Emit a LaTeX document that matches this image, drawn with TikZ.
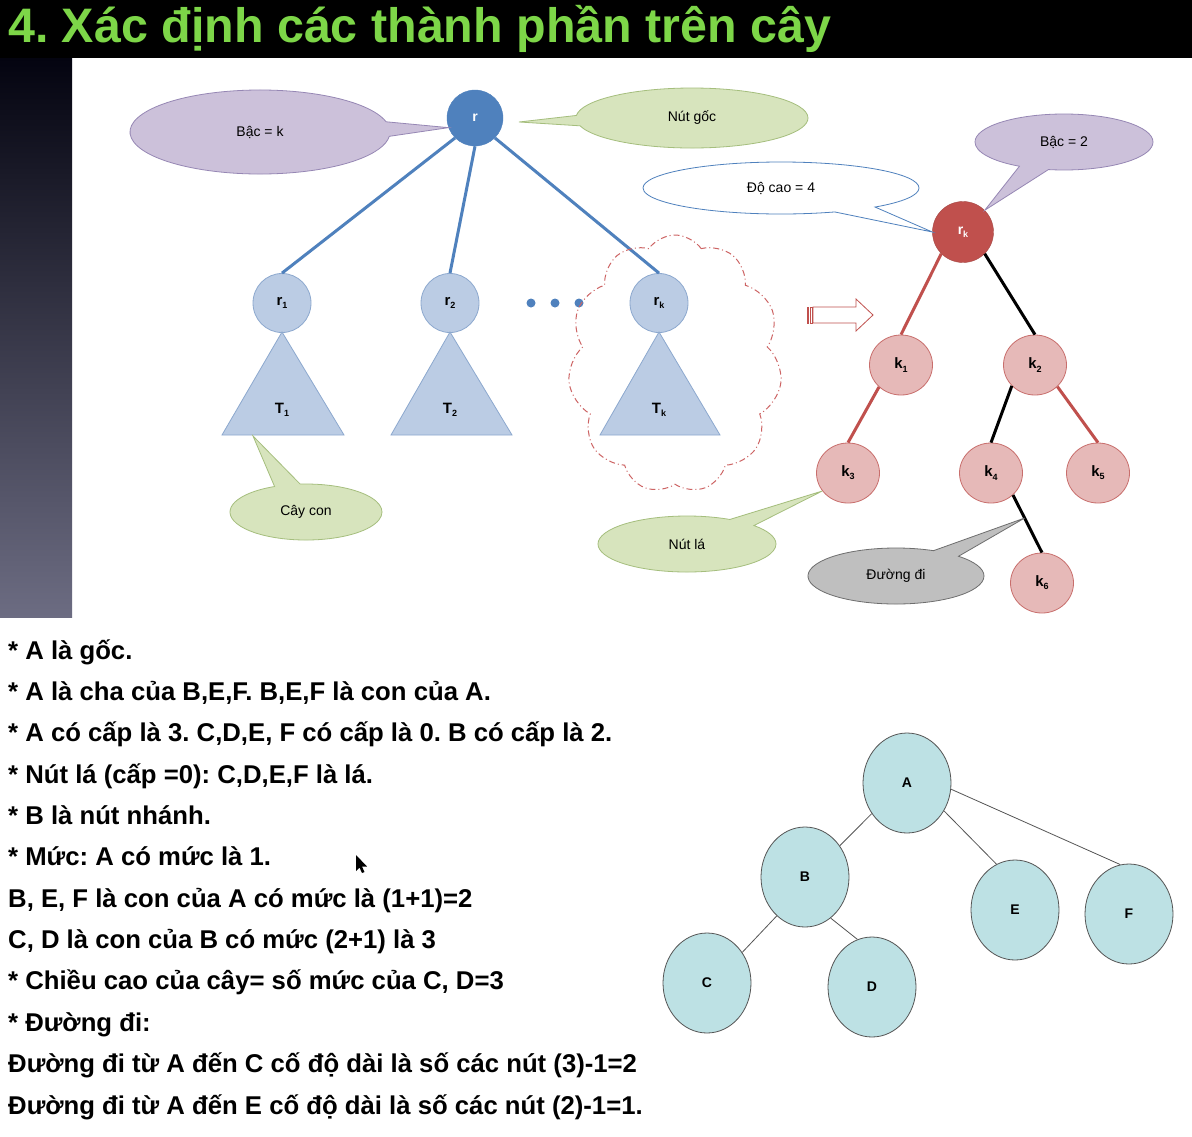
\documentclass[tikz,border=0pt]{standalone}
\usepackage{fontspec}
\setmainfont{Liberation Sans}
\usetikzlibrary{shapes.geometric,shapes.callouts,shapes.symbols,calc}

\definecolor{titlegreen}{RGB}{125,214,72}
\definecolor{rootblue}{RGB}{79,129,189}
\definecolor{subfill}{RGB}{187,204,228}
\definecolor{subline}{RGB}{140,168,206}
\definecolor{lilacfill}{RGB}{204,193,218}
\definecolor{lilacline}{RGB}{150,135,180}
\definecolor{sagefill}{RGB}{215,228,189}
\definecolor{sageline}{RGB}{165,190,125}
\definecolor{grayfill}{RGB}{191,191,191}
\definecolor{grayline}{RGB}{110,110,110}
\definecolor{brick}{RGB}{192,80,77}
\definecolor{pinkfill}{RGB}{230,185,184}
\definecolor{pinkline}{RGB}{200,110,108}
\definecolor{tealfill}{RGB}{189,225,228}
\definecolor{tealline}{RGB}{85,85,85}
\definecolor{cloudred}{RGB}{205,100,100}
\definecolor{stripetop}{RGB}{4,4,16}
\definecolor{stripemid}{RGB}{32,32,72}
\definecolor{stripebot}{RGB}{108,108,130}

% small lowered index used in node labels
\newcommand{\sbs}[1]{\raisebox{-0.4ex}{\fontsize{9}{9}\selectfont #1}}

\tikzset{
  bodytext/.style={anchor=base west, inner sep=0pt, font=\fontsize{25.7}{28}\selectfont\bfseries\frenchspacing},
  calloutbox/.style={ellipse callout, inner sep=0pt, line width=0.8pt,
    font=\fontsize{14}{16}\selectfont, callout pointer arc=20},
  lilac/.style={calloutbox, fill=lilacfill, draw=lilacline},
  sage/.style={calloutbox, fill=sagefill, draw=sageline},
  plain/.style={calloutbox, fill=white, draw=rootblue},
  grey/.style={calloutbox, fill=grayfill, draw=grayline},
  rootnode/.style={circle, fill=rootblue, draw=rootblue, text=white, minimum size=56pt,
    inner sep=0pt, font=\fontsize{14}{15}\selectfont\bfseries},
  subroot/.style={ellipse, fill=subfill, draw=subline, line width=0.8pt, minimum width=58pt,
    minimum height=59pt, inner sep=0pt, font=\fontsize{15}{16}\selectfont\bfseries},
  subtree/.style={fill=subfill, draw=subline, line width=0.8pt},
  treelabel/.style={inner sep=0pt, font=\fontsize{15}{16}\selectfont\bfseries},
  blueedge/.style={draw=rootblue, line width=3pt},
  dotnode/.style={circle, fill=rootblue, inner sep=0pt, minimum size=9pt},
  redroot/.style={circle, fill=brick, draw=brick!85!black, text=white, minimum size=61pt,
    inner sep=0pt, font=\fontsize{14}{15}\selectfont\bfseries},
  knode/.style={ellipse, fill=pinkfill, draw=pinkline, line width=0.8pt, minimum width=63pt,
    minimum height=60pt, inner sep=0pt, font=\fontsize{15}{16}\selectfont\bfseries},
  rededge/.style={draw=brick, line width=3pt},
  blackedge/.style={draw=black, line width=3pt},
  letter/.style={ellipse, fill=tealfill, draw=tealline, line width=0.8pt, minimum width=88pt,
    minimum height=100pt, inner sep=0pt, font=\fontsize{14}{15}\selectfont\bfseries},
  thinedge/.style={draw=tealline, line width=0.8pt},
  cloudline/.style={draw=cloudred, line width=1pt, dash pattern=on 6pt off 3pt on 1pt off 3pt}
}

\begin{document}
\begin{tikzpicture}[x=1pt,y=-1pt]
\useasboundingbox (0,0) rectangle (1192,1136);
\fill[white] (0,0) rectangle (1192,1136);

% slide frame: black title band and dark gradient strip at the left
\fill[black] (0,0) rectangle (1192,58);
\shade[top color=stripetop, middle color=stripemid, bottom color=stripebot] (0,58) rectangle (72,617);

\node[anchor=base west, inner sep=0pt, text=titlegreen,
      font=\fontsize{48.4}{50}\selectfont\bfseries\frenchspacing] (title) at (8,42)
      {4. Xác định các thành phần trên cây};

% ---------- general tree with subtrees ----------
\node[rootnode] (r) at (475,118) {r};
\node[subroot] (r1) at (282,303) {r\sbs{1}};
\node[subroot] (r2) at (450,303) {r\sbs{2}};
\node[subroot] (rk) at (659,303) {r\sbs{k}};

\draw[blueedge] (r.225) -- (r1.north);
\draw[blueedge] (r.south) -- (r2.north);
\draw[blueedge] (r.-45) -- (rk.north);

\draw[subtree] (282,332) -- (344,435) -- (222,435) -- cycle;
\draw[subtree] (450,332) -- (512,435) -- (391,435) -- cycle;
\draw[subtree] (659,332) -- (720,435) -- (600,435) -- cycle;
\node[treelabel] (t1) at (282,410) {T\sbs{1}};
\node[treelabel] (t2) at (450,410) {T\sbs{2}};
\node[treelabel] (tk) at (659,410) {T\sbs{k}};

\node[dotnode] (d1) at (531,303) {};
\node[dotnode] (d2) at (555,303) {};
\node[dotnode] (d3) at (579,303) {};

\node[cloud, cloud puffs=11, cloud puff arc=110, cloud ignores aspect,
      minimum width=214pt, minimum height=258pt, cloudline] (cl) at (675,364) {};

% hollow arrow with striped tail
\draw[brick, line width=0.8pt, fill=white] (807,307) rectangle (808.8,323);
\draw[brick, line width=0.8pt, fill=white] (810.2,307) rectangle (812,323);
\draw[brick, line width=0.8pt, fill=white]
  (813,307) -- (856,307) -- (856,299) -- (873,315) -- (856,331) -- (856,323) -- (813,323) -- cycle;

% ---------- subtree T_k drawn out ----------
\node[redroot] (kr) at (963,232) {r\sbs{k}};
\node[knode] (k1) at (901,365) {k\sbs{1}};
\node[knode] (k2) at (1035,365) {k\sbs{2}};
\node[knode] (k3) at (848,473) {k\sbs{3}};
\node[knode] (k4) at (991,473) {k\sbs{4}};
\node[knode] (k5) at (1098,473) {k\sbs{5}};
\node[knode] (k6) at (1042,583) {k\sbs{6}};

\draw[rededge] (kr.225) -- (k1.north);
\draw[blackedge] (kr.-45) -- (k2.north);
\draw[rededge] (k1.225) -- (k3.north);
\draw[blackedge] (k2.222) -- (k4.north);
\draw[rededge] (k2.-44) -- (k5.north);
\draw[blackedge] (k4.-45) -- (k6.north);

% ---------- callouts ----------
\coordinate (rootmark) at (519,122);
\coordinate (subtreemark) at (253,436);
\coordinate (pathmark) at ($(k4.-45)!0.4!(k6.north)$);

\node[lilac, minimum width=260pt, minimum height=84pt,
      callout absolute pointer={(r.200)}] (bk) at (260,132) {Bậc = k};
\node[sage, minimum width=232pt, minimum height=60pt,
      callout absolute pointer={(rootmark)}] (ng) at (692,118) {Nút gốc};
\node[plain, minimum width=276pt, minimum height=52pt,
      callout absolute pointer={(kr.180)}] (dc) at (781,188) {Độ cao = 4};
\node[lilac, minimum width=178pt, minimum height=56pt,
      callout absolute pointer={(kr.45)}] (b2) at (1064,142) {Bậc = 2};
\node[sage, minimum width=152pt, minimum height=56pt,
      callout absolute pointer={(subtreemark)}] (cc) at (306,512) {Cây con};
\node[sage, minimum width=178pt, minimum height=56pt,
      callout absolute pointer={(k3.215)}] (nl) at (687,544) {Nút lá};
\node[grey, minimum width=176pt, minimum height=56pt,
      callout absolute pointer={(pathmark)}] (dd) at (896,576) {Đường đi};

% ---------- notes ----------
\node[bodytext] (l1) at (8,659) {* A là gốc.};
\node[bodytext] (l2) at (8,700) {* A là cha của B,E,F. B,E,F là con của A.};
\node[bodytext] (l3) at (8,741) {* A có cấp là 3. C,D,E, F có cấp là 0. B có cấp là 2.};
\node[bodytext] (l4) at (8,783) {* Nút lá (cấp =0): C,D,E,F là lá.};
\node[bodytext] (l5) at (8,824) {* B là nút nhánh.};
\node[bodytext] (l6) at (8,865) {* Mức: A có mức là 1.};
\node[bodytext] (l7) at (8,907) {B, E, F là con của A có mức là (1+1)=2};
\node[bodytext] (l8) at (8,948) {C, D là con của B có mức (2+1) là 3};
\node[bodytext] (l9) at (8,989) {* Chiều cao của cây= số mức của C, D=3};
\node[bodytext] (l10) at (8,1031) {* Đường đi:};
\node[bodytext] (l11) at (8,1072) {Đường đi từ A đến C cố độ dài là số các nút (3)-1=2};
\node[bodytext] (l12) at (8,1114) {Đường đi từ A đến E cố độ dài là số các nút (2)-1=1.};

% mouse pointer
\fill[black] (356,855) -- (356,871) -- (359.5,867.5) -- (362,873) -- (364.5,872) -- (362,866.5) -- (367,866.5) -- cycle;

% ---------- example tree ----------
\node[letter] (A) at (907,783) {A};
\node[letter] (B) at (805,877) {B};
\node[letter] (E) at (1015,910) {E};
\node[letter] (F) at (1129,914) {F};
\node[letter] (C) at (707,983) {C};
\node[letter] (D) at (872,987) {D};

\draw[thinedge] (A.221) -- (B.42);
\draw[thinedge] (A.-37) -- (E.112);
\draw[thinedge] (A.-8) -- (F.100);
\draw[thinedge] (B.234) -- (C.41);
\draw[thinedge] (B.-58) -- (D.107);
\end{tikzpicture}
\end{document}
